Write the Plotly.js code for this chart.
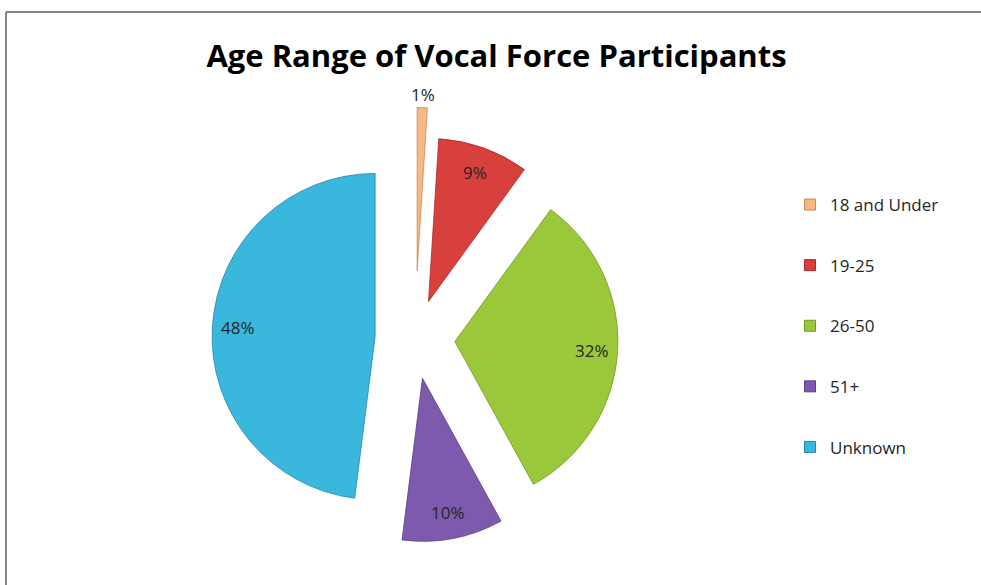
<!DOCTYPE html>
<html>
<head>
<meta charset="utf-8">
<script src="https://cdn.plot.ly/plotly-3.0.1.min.js"></script>
<style>html,body{margin:0;padding:0;background:#fff;}#chart{width:981px;height:585px;}</style>
</head>
<body>
<div id="chart"></div>
<script>
// Data
const categories = ["18 and Under", "19-25", "26-50", "51+", "Unknown"];
const shares = [1, 9, 32, 10, 48];
const pulls = [0.42, 0.245, 0.245, 0.245, 0.245];
const colors = ["#F6B885", "#D8403E", "#9BC83B", "#7D5AAD", "#3AB7DD"];
const edgeColors = ["#C98A55", "#A52A28", "#6F9A22", "#5A3D85", "#2389AA"];

const W = 981, H = 585;
const px = x => x / W, py = y => 1 - y / H;
const FONT = "'Open Sans', Lato, 'DejaVu Sans', sans-serif";

const domX = [px(183.5), px(646.5)], domY = [py(570.5), py(107.5)];

const pie = {
  type: "pie",
  labels: categories,
  values: shares,
  sort: false,
  direction: "clockwise",
  rotation: 0,
  pull: pulls,
  marker: { colors: colors, line: { color: edgeColors, width: 0.8 } },
  textinfo: "none",
  domain: { x: domX, y: domY },
  showlegend: false,
  hoverinfo: "label+percent"
};

// percentage labels placed along each slice's middle angle (Excel "best fit" look)
const total = shares.reduce((a, b) => a + b, 0);
const maxPull = Math.max.apply(null, pulls);
const cx = (domX[0] + domX[1]) / 2 * W;
const cy = H * (1 - (domY[0] + domY[1]) / 2);
const R = Math.min((domX[1] - domX[0]) * W, (domY[1] - domY[0]) * H) / (2 + 2 * maxPull);
let cum = 0;
const annotations = shares.map((v, i) => {
  const mid = (cum + v / 2) / total; cum += v;
  const th = 2 * Math.PI * mid;
  const dx = Math.sin(th), dy = -Math.cos(th);
  const small = v / total < 0.03;
  const f = pulls[i] + (small ? 1.08 : 0.84);
  const x = cx + f * R * dx, y = cy + f * R * dy;
  return {
    x: px(x), y: py(y), xref: "paper", yref: "paper",
    text: Math.round(v / total * 100) + "%", showarrow: false,
    xanchor: "center", yanchor: "middle",
    font: { family: FONT, size: 17, color: "#262626" }
  };
});

// legend entries (one per category) so that entries can be spaced like the original
const legendTraces = categories.map((c, i) => ({
  type: "scatter", mode: "markers", x: [null], y: [null],
  name: c, legendgroup: "g" + i,
  marker: { symbol: "square", size: 11, color: colors[i], line: { color: edgeColors[i], width: 1 } },
  hoverinfo: "skip"
}));

const layout = {
  width: W, height: H,
  margin: { l: 0, r: 0, t: 0, b: 0 },
  paper_bgcolor: "#ffffff", plot_bgcolor: "#ffffff",
  title: {
    text: "Age Range of Vocal Force Participants",
    font: { family: FONT, size: 31, weight: 700, color: "#000000" },
    x: px(496.5), xanchor: "center", xref: "paper",
    y: py(56), yanchor: "middle", yref: "paper"
  },
  xaxis: { visible: false, domain: [0.9, 0.91] },
  yaxis: { visible: false, domain: [0.9, 0.91] },
  annotations: annotations,
  legend: {
    x: px(790), xanchor: "left", y: py(187), yanchor: "top",
    font: { family: FONT, size: 17, color: "#262626" },
    tracegroupgap: 35.5, itemwidth: 30, bgcolor: "rgba(0,0,0,0)"
  },
  shapes: [
    { type: "line", xref: "paper", yref: "paper", x0: px(6), x1: 1, y0: py(12), y1: py(12), line: { color: "#878787", width: 2 } },
    { type: "line", xref: "paper", yref: "paper", x0: px(6), x1: px(6), y0: py(12), y1: 0, line: { color: "#878787", width: 2 } }
  ],
  showlegend: true
};

Plotly.newPlot("chart", [pie].concat(legendTraces), layout, { displayModeBar: false, staticPlot: true });
</script>
</body>
</html>
